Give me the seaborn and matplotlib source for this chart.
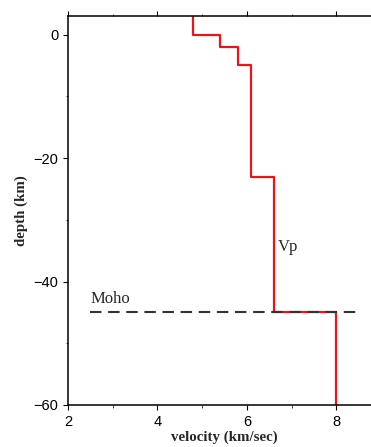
import matplotlib
matplotlib.use("Agg")
import matplotlib.pyplot as plt
import seaborn as sns
import pandas as pd
from matplotlib.ticker import MultipleLocator

# Layer model
layer_tops = [3, 0, -2, -5, -23, -45]
layer_bottoms = [0, -2, -5, -23, -45, -60]
vp = [4.8, 5.4, 5.8, 6.1, 6.6, 8.0]
moho_depth = -45
moho_x = [2.5, 8.5]
x_ticks = [2, 4, 6, 8]
y_ticks = [0, -20, -40, -60]

sns.set_theme(style="ticks")
plt.rcParams['font.family'] = ['Liberation Sans', 'DejaVu Sans']

xs, ys = [], []
for v, t, b in zip(vp, layer_tops, layer_bottoms):
    xs += [v, v]
    ys += [t, b]
df = pd.DataFrame({"velocity": xs, "depth": ys})

fig = plt.figure(figsize=(3.71, 4.47), dpi=100)
ax = fig.add_axes([68/371, 1-405/447, (381-68)/371, (405-16)/447])

sns.lineplot(data=df, x="velocity", y="depth", sort=False, estimator=None,
             color="#e8161b", linewidth=1.6, ax=ax, zorder=2)
moho = pd.DataFrame({"x": moho_x, "y": [moho_depth, moho_depth]})
sns.lineplot(data=moho, x="x", y="y", color="#333333", linewidth=1.5,
             dashes=False, ax=ax, zorder=3)
ax.lines[-1].set_linestyle((0, (5.5, 3.2)))

ax.set_xlim(2, 9)
ax.set_ylim(-60, 3)
ax.set_xticks(x_ticks)
ax.set_yticks(y_ticks)
ax.xaxis.set_minor_locator(MultipleLocator(1))
ax.yaxis.set_minor_locator(MultipleLocator(10))
ax.tick_params(axis='both', which='major', direction='out', length=3.5, width=0.8,
               labelsize=10.5, pad=3.5, colors='black', top=True)
ax.tick_params(axis='both', which='minor', direction='out', length=1.8, width=0.6,
               top=True)
ax.tick_params(axis='x', labeltop=False)
for s in ax.spines.values():
    s.set_linewidth(1.1)
    s.set_color('black')

serif = ['Liberation Serif', 'DejaVu Serif']
ax.set_xlabel("velocity (km/sec)", family=serif, fontweight='bold', fontsize=10.7, labelpad=1.5)
ax.set_ylabel("depth (km)", family=serif, fontweight='bold', fontsize=10.7, labelpad=4)
ax.text(6.7, -35.0, "Vp", family=serif, fontsize=12, va='baseline', ha='left')
ax.text(2.5, -43.5, "Moho", family=serif, fontsize=12, va='baseline', ha='left')

fig.savefig("out.png", dpi=100)
